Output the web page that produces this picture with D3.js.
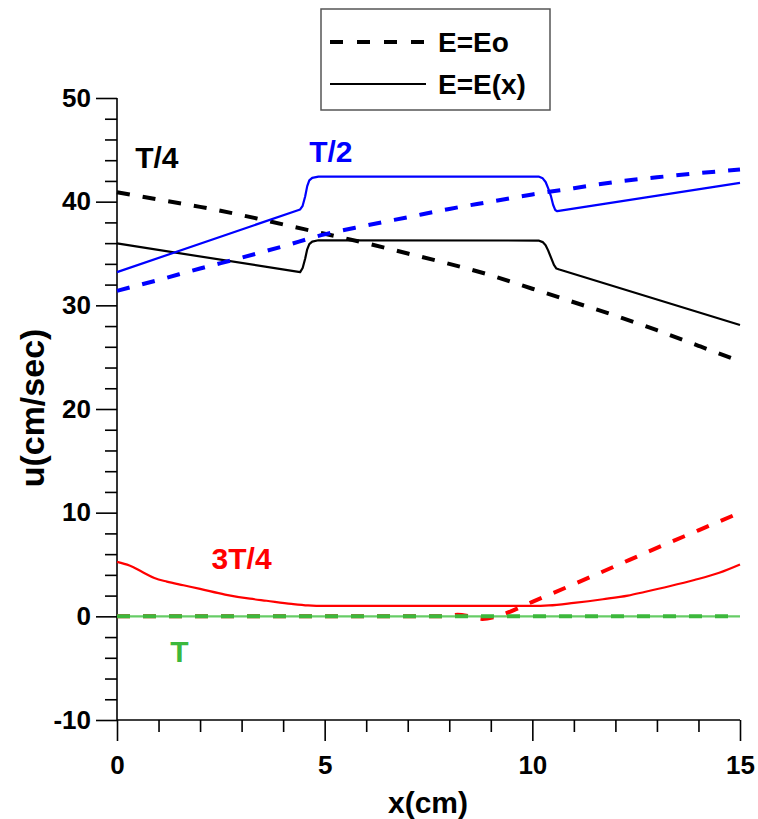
<!DOCTYPE html>
<html>
<head>
<meta charset="utf-8">
<script src="https://cdn.jsdelivr.net/npm/d3@7"></script>
<style>
  body { margin: 0; background: #fff; }
  svg text { font-family: "Liberation Sans", Arial, sans-serif; font-weight: bold; }
</style>
</head>
<body>
<svg width="758" height="819"></svg>
<script>
// tick values
const xMajor = [0, 5, 10, 15];
const yMajor = [-10, 0, 10, 20, 30, 40, 50];

// T/4, E=Eo (dashed black)
const t4DashX = [0, 1, 2, 3, 4, 5, 6, 7, 8, 9, 10, 11, 12, 13, 14, 15];
const t4DashU = [40.9, 40.2, 39.5, 38.7, 37.8, 36.9, 36.0, 35.0, 34.0, 32.9, 31.6, 30.3, 29.0, 27.6, 26.1, 24.6];
// T/4, E=E(x) (solid black)
const t4SolidX = [0, 4.41, 4.47, 4.53, 4.58, 4.63, 4.7, 4.85, 10.15, 10.25, 10.32, 10.38, 10.45, 10.52, 10.58, 10.65, 15];
const t4SolidU = [35.97, 33.2, 33.6, 34.5, 35.4, 35.9, 36.15, 36.28, 36.25, 36.1, 35.8, 35.3, 34.6, 33.9, 33.55, 33.45, 28.1];

// T/2, E=Eo (dashed blue)
const t2DashX = [0, 1, 2, 3, 4, 5, 6, 7, 8, 9, 10, 11, 12, 13, 14, 15];
const t2DashU = [31.4, 32.45, 33.55, 34.6, 35.7, 36.85, 37.7, 38.5, 39.3, 40.0, 40.7, 41.3, 41.9, 42.35, 42.75, 43.1];
// T/2, E=E(x) (solid blue)
const t2SolidX = [0, 4.41, 4.47, 4.53, 4.58, 4.63, 4.7, 4.85, 10.15, 10.25, 10.32, 10.38, 10.45, 10.5, 10.55, 10.6, 15];
const t2SolidU = [33.2, 39.25, 39.6, 40.5, 41.5, 42.05, 42.3, 42.42, 42.42, 42.25, 41.9, 41.3, 40.5, 39.7, 39.2, 39.08, 41.82];

// 3T/4, E=Eo (dashed red)
const t34DashX = [0, 2, 4, 6, 7.8, 8.2, 8.5, 8.8, 9.1, 9.3, 10, 11, 12, 13, 14, 15];
const t34DashU = [0, 0, 0, 0, 0, 0.15, 0, -0.25, -0.05, 0.2, 1.4, 3.1, 4.85, 6.6, 8.3, 10.0];
// 3T/4, E=E(x) (solid red)
const t34SolidX = [0, 0.3, 0.6, 0.9, 1.2, 1.6, 2, 2.6, 3.2, 3.6, 4.2, 4.6, 5, 7, 10, 10.4, 11, 11.7, 12.3, 12.7, 13.3, 13.9, 14.5, 15];
const t34SolidU = [5.25, 4.9, 4.3, 3.7, 3.35, 3.0, 2.65, 2.1, 1.7, 1.5, 1.2, 1.05, 1.0, 1.0, 1.0, 1.05, 1.3, 1.65, 2.0, 2.35, 2.9, 3.5, 4.2, 5.0];

// T (green, both zero)
const tDashX = [0, 15];
const tDashU = [0, 0];
const tSolidX = [0, 15];
const tSolidU = [0, 0];

const svg = d3.select("svg");
const plotLeft = 117, plotRight = 740, plotTop = 98, plotBottom = 720;

const x = d3.scaleLinear().domain([0, 15]).range([plotLeft, plotRight]);
const y = d3.scaleLinear().domain([-10, 50]).range([plotBottom, plotTop]);

// minor ticks
const xMinor = d3.range(0, 15.01, 1).filter(v => v % 5 !== 0);
const yMinor = d3.range(-10, 50.01, 2).filter(v => v % 10 !== 0);

const styleLabels = g => g.selectAll("text")
    .attr("font-size", "26px")
    .attr("font-family", "Liberation Sans, Arial")
    .attr("font-weight", "bold")
    .attr("fill", "#000");

svg.append("g")
    .attr("transform", `translate(0, ${plotBottom})`)
    .call(d3.axisBottom(x).tickValues(xMinor).tickSize(12).tickFormat(""))
    .call(g => g.select(".domain").remove());
svg.append("g")
    .attr("transform", `translate(0, ${plotBottom})`)
    .call(d3.axisBottom(x).tickValues(xMajor).tickSize(21).tickPadding(15).tickFormat(d => String(d)))
    .call(g => g.select(".domain").remove())
    .call(styleLabels);

svg.append("g")
    .attr("transform", `translate(${plotLeft}, 0)`)
    .call(d3.axisLeft(y).tickValues(yMinor).tickSize(12).tickFormat(""))
    .call(g => g.select(".domain").remove());
svg.append("g")
    .attr("transform", `translate(${plotLeft}, 0)`)
    .call(d3.axisLeft(y).tickValues(yMajor).tickSize(21).tickPadding(5).tickFormat(d => String(d)))
    .call(g => g.select(".domain").remove())
    .call(styleLabels);

svg.selectAll(".tick line").attr("stroke", "#000").attr("stroke-width", 1.6);

// axis lines
svg.append("line").attr("x1", plotLeft).attr("x2", plotLeft).attr("y1", plotTop).attr("y2", plotBottom)
    .attr("stroke", "#000").attr("stroke-width", 1.6);
svg.append("line").attr("x1", plotLeft).attr("x2", plotRight).attr("y1", plotBottom).attr("y2", plotBottom)
    .attr("stroke", "#000").attr("stroke-width", 1.6);

// axis titles
svg.append("text")
    .attr("x", 428)
    .attr("y", 813)
    .attr("font-size", "30px")
    .attr("text-anchor", "middle")
    .text("x(cm)");
svg.append("text")
    .attr("transform", "translate(44, 408) rotate(-90)")
    .attr("font-size", "34px")
    .attr("text-anchor", "middle")
    .text("u(cm/sec)");

const zipXY = (xs, us) => xs.map((v, i) => [v, us[i]]);

const series = [
    { xs: tSolidX, us: tSolidU, color: "#66cc66", dash: null, curve: d3.curveLinear },
    { xs: t34DashX, us: t34DashU, color: "#ff0000", dash: "13,13", curve: d3.curveMonotoneX },
    { xs: t34SolidX, us: t34SolidU, color: "#ff0000", dash: null, curve: d3.curveMonotoneX },
    { xs: tDashX, us: tDashU, color: "#3cb83c", dash: "13,13", curve: d3.curveLinear },
    { xs: t4DashX, us: t4DashU, color: "#000000", dash: "13,13", curve: d3.curveMonotoneX },
    { xs: t4SolidX, us: t4SolidU, color: "#000000", dash: null, curve: d3.curveLinear },
    { xs: t2DashX, us: t2DashU, color: "#0000ff", dash: "13,13", curve: d3.curveMonotoneX },
    { xs: t2SolidX, us: t2SolidU, color: "#0000ff", dash: null, curve: d3.curveLinear }
];

series.forEach(s => {
    const line = d3.line().x(d => x(d[0])).y(d => y(d[1])).curve(s.curve);
    svg.append("path")
        .datum(zipXY(s.xs, s.us))
        .attr("d", line)
        .attr("fill", "none")
        .attr("stroke", s.color)
        .attr("stroke-width", s.dash ? 4 : 2.2)
        .attr("stroke-linejoin", "round")
        .attr("stroke-dasharray", s.dash);
});

// curve labels
const labels = [
    { text: "T/4", xv: 0.96, uv: 43.2, color: "#000000" },
    { text: "T/2", xv: 5.15, uv: 43.8, color: "#0000ff" },
    { text: "3T/4", xv: 3.0, uv: 4.6, color: "#ff0000" },
    { text: "T", xv: 1.5, uv: -4.4, color: "#3cb83c" }
];
svg.selectAll(".lab").data(labels).enter().append("text")
    .attr("x", d => x(d.xv))
    .attr("y", d => y(d.uv))
    .attr("text-anchor", "middle")
    .attr("font-size", "30px")
    .attr("fill", d => d.color)
    .text(d => d.text);

// legend
const lg = svg.append("g");
lg.append("rect").attr("x", 321).attr("y", 9).attr("width", 229).attr("height", 101)
    .attr("fill", "#fff").attr("stroke", "#555").attr("stroke-width", 1.5);
lg.append("line").attr("x1", 330).attr("x2", 426).attr("y1", 42).attr("y2", 42)
    .attr("stroke", "#000").attr("stroke-width", 4).attr("stroke-dasharray", "13,14");
lg.append("line").attr("x1", 330).attr("x2", 426).attr("y1", 84).attr("y2", 84)
    .attr("stroke", "#000").attr("stroke-width", 2);
lg.append("text").attr("x", 438).attr("y", 52).attr("font-size", "28px").text("E=Eo");
lg.append("text").attr("x", 438).attr("y", 94).attr("font-size", "28px").text("E=E(x)");
</script>
</body>
</html>
